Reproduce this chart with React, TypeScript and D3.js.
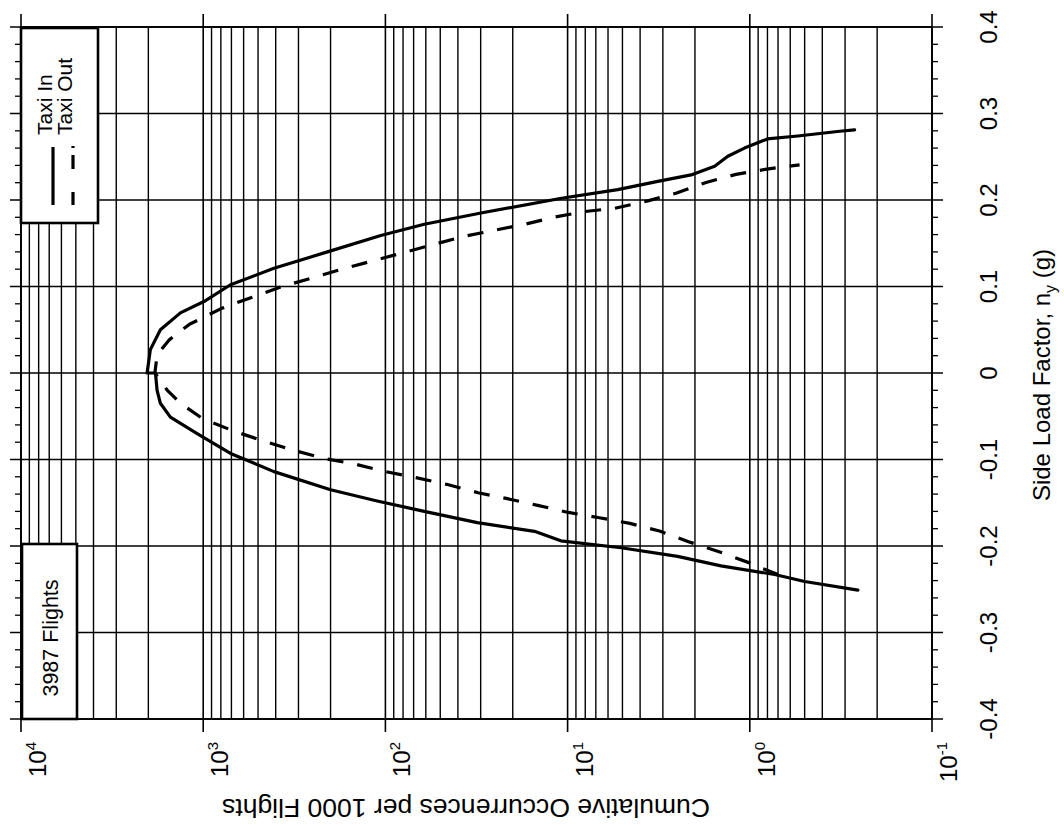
import React from "react";
import * as d3 from "d3";

// ---- Data ----
const loadTicks = [-0.4, -0.3, -0.2, -0.1, 0, 0.1, 0.2, 0.3, 0.4];
const decadeExponents = [4, 3, 2, 1, 0, -1];

// Taxi In (solid): side load factor ny (g) vs cumulative occurrences per 1000 flights
const taxiInLoad = [
  -0.251, -0.241, -0.233, -0.223, -0.212, -0.202, -0.194, -0.183, -0.173, -0.16, -0.148,
  -0.135, -0.114, -0.093, -0.07, -0.051, -0.035, -0.02, 0,
  0, 0.027, 0.05, 0.0695, 0.0826, 0.102, 0.121, 0.14, 0.159, 0.172, 0.185, 0.202, 0.212,
  0.2216, 0.229, 0.239, 0.2506, 0.26, 0.2706, 0.274, 0.2795, 0.281,
];
const taxiInCount = [
  0.255, 0.5, 0.73, 1.44, 2.49, 5.09, 10.9, 15.2, 31.3, 61.2, 111,
  200, 409, 708, 1080, 1514, 1718, 1791, 1828,
  2032, 1950, 1718, 1334, 991, 708, 409, 208, 106, 61.2, 29.9, 10.8, 5.31,
  3.2, 2.1, 1.56, 1.32, 1.07, 0.8, 0.545, 0.321, 0.266,
];

// Taxi Out (dashed)
const taxiOutLoad = [
  -0.233, -0.2245, -0.2198, -0.207, -0.195, -0.1827, -0.1739, -0.1673, -0.1612, -0.153,
  -0.1453, -0.1384, -0.1287, -0.121, -0.114, -0.1054, -0.0985, -0.0892, -0.0788, -0.0668,
  -0.0525, -0.035, -0.0197, 0,
  0.0209, 0.038, 0.0564, 0.075, 0.0877, 0.1, 0.1097, 0.1202, 0.1394, 0.158, 0.1718, 0.1804,
  0.1866, 0.1905, 0.199, 0.208, 0.2206, 0.2296, 0.2357, 0.2407,
];
const taxiOutCount = [
  0.7, 0.885, 0.995, 1.46, 2.17, 3.13, 4.55, 6.7, 9.91, 14.6,
  21.4, 31.0, 46.2, 68, 100, 146, 220, 321, 465, 687,
  1012, 1334, 1578, 1841,
  1791, 1542, 1189, 787, 538, 368, 255, 172, 78.9, 37.0, 17.3, 11.7,
  8.09, 5.5, 3.63, 2.52, 1.72, 1.19, 0.807, 0.533,
];

const legendLabels = ["Taxi In", "Taxi Out"];
const flightsLabel = "3987 Flights";
const countTitle = "Cumulative Occurrences per 1000 Flights";

// ---- Layout ----
const W = 1064;
const H = 825;
const L = 21;
const R = 932;
const T = 27;
const B = 719;
const FONT = "'Liberation Sans', Arial, Helvetica, sans-serif";

const xScale = d3.scaleLog().domain([1e4, 1e-1]).range([L, R]);
const yScale = d3.scaleLinear().domain([-0.4, 0.4]).range([B, T]);

const minorCounts = d3
  .range(-1, 4)
  .flatMap((k) => d3.range(2, 10).map((m) => m * Math.pow(10, k)));
const decadeValues = decadeExponents.map((e) => Math.pow(10, e));
const minorLoads = d3
  .range(-20, 21)
  .filter((i) => i % 5 !== 0)
  .map((i) => i * 0.02);

const line = d3
  .line<[number, number]>()
  .x((d) => xScale(d[1]))
  .y((d) => yScale(d[0]));

const inPts: [number, number][] = taxiInLoad.map((v, i) => [v, taxiInCount[i]]);
const outPts: [number, number][] = taxiOutLoad.map((v, i) => [v, taxiOutCount[i]]);

const fmtLoad = (v: number) => (Math.abs(v) < 1e-9 ? "0" : v.toFixed(1));

export default function App() {
  return (
    <div style={{ position: "absolute", left: 0, top: 0 }}>
      <svg width={W} height={H} style={{ display: "block", background: "#fff" }} fontFamily={FONT}>
        <rect x={0} y={0} width={W} height={H} fill="#fff" />
        {/* vertical minor grid */}
        {minorCounts.map((c) => (
          <line key={"vm" + c} x1={xScale(c)} x2={xScale(c)} y1={T} y2={B} stroke="#000" strokeWidth={1.4} />
        ))}
        {/* decade lines with outward ticks */}
        {decadeValues.map((c) => (
          <line key={"vd" + c} x1={xScale(c)} x2={xScale(c)} y1={T - 13} y2={B + 13} stroke="#000" strokeWidth={1.6} />
        ))}
        {/* horizontal grid with outward major ticks */}
        {loadTicks.map((v) => (
          <line key={"h" + v} x1={L - 11} x2={R + 11} y1={yScale(v)} y2={yScale(v)} stroke="#000" strokeWidth={1.4} />
        ))}
        {/* minor ticks left and right */}
        {minorLoads.map((v) => (
          <g key={"mt" + v}>
            <line x1={L - 6} x2={L} y1={yScale(v)} y2={yScale(v)} stroke="#000" strokeWidth={1.3} />
            <line x1={R} x2={R + 6} y1={yScale(v)} y2={yScale(v)} stroke="#000" strokeWidth={1.3} />
          </g>
        ))}
        {/* frame */}
        <rect x={L} y={T} width={R - L} height={B - T} fill="none" stroke="#000" strokeWidth={1.8} />

        {/* curves */}
        <path d={line(inPts) || ""} fill="none" stroke="#000" strokeWidth={3.2} strokeLinejoin="round" strokeLinecap="round" />
        <path d={line(outPts) || ""} fill="none" stroke="#000" strokeWidth={3.2} strokeDasharray="16 14" strokeLinejoin="round" />

        {/* legend box */}
        <rect x={L} y={T + 1} width={77} height={195} fill="#fff" stroke="#000" strokeWidth={2.6} />
        <text transform={`translate(52,135) rotate(-90)`} fontSize={21} fill="#000">{legendLabels[0]}</text>
        <text transform={`translate(72,135) rotate(-90)`} fontSize={21} fill="#000">{legendLabels[1]}</text>
        <line x1={53} x2={53} y1={147} y2={205} stroke="#000" strokeWidth={3.2} />
        <line x1={73} x2={73} y1={205} y2={146} stroke="#000" strokeWidth={3.2} strokeDasharray="13 23 14 7 2 40" />

        {/* flights box */}
        <rect x={L + 1} y={544} width={55} height={B - 544} fill="#fff" stroke="#000" strokeWidth={2.6} />
        <text transform={`translate(58,638) rotate(-90)`} fontSize={21.5} textAnchor="middle" fill="#000">{flightsLabel}</text>

        {/* right axis labels */}
        {loadTicks.map((v) => (
          <text key={"rl" + v} transform={`translate(997,${yScale(v)}) rotate(-90)`} fontSize={24} textAnchor="middle" fill="#000">
            {fmtLoad(v)}
          </text>
        ))}
        <text transform={`translate(1050,375) rotate(-90)`} fontSize={24} textAnchor="middle" fill="#000">
          Side Load Factor, n<tspan fontSize={16} dy={6}>y</tspan><tspan dy={-6}> (g)</tspan>
        </text>

        {/* bottom axis labels */}
        {decadeExponents.map((e) => (
          <text key={"bl" + e} transform={`translate(${xScale(Math.pow(10, e)) + 25},742) rotate(-90)`} fontSize={24} textAnchor="end" fill="#000">
            10<tspan fontSize={15} dy={-10}>{String(e)}</tspan>
          </text>
        ))}
        <text
          transform={`translate(466,799) rotate(180)`}
          fontSize={25}
          textAnchor="middle"
          textLength={488}
          lengthAdjust="spacingAndGlyphs"
          fill="#000"
        >
          {countTitle}
        </text>
      </svg>
    </div>
  );
}
